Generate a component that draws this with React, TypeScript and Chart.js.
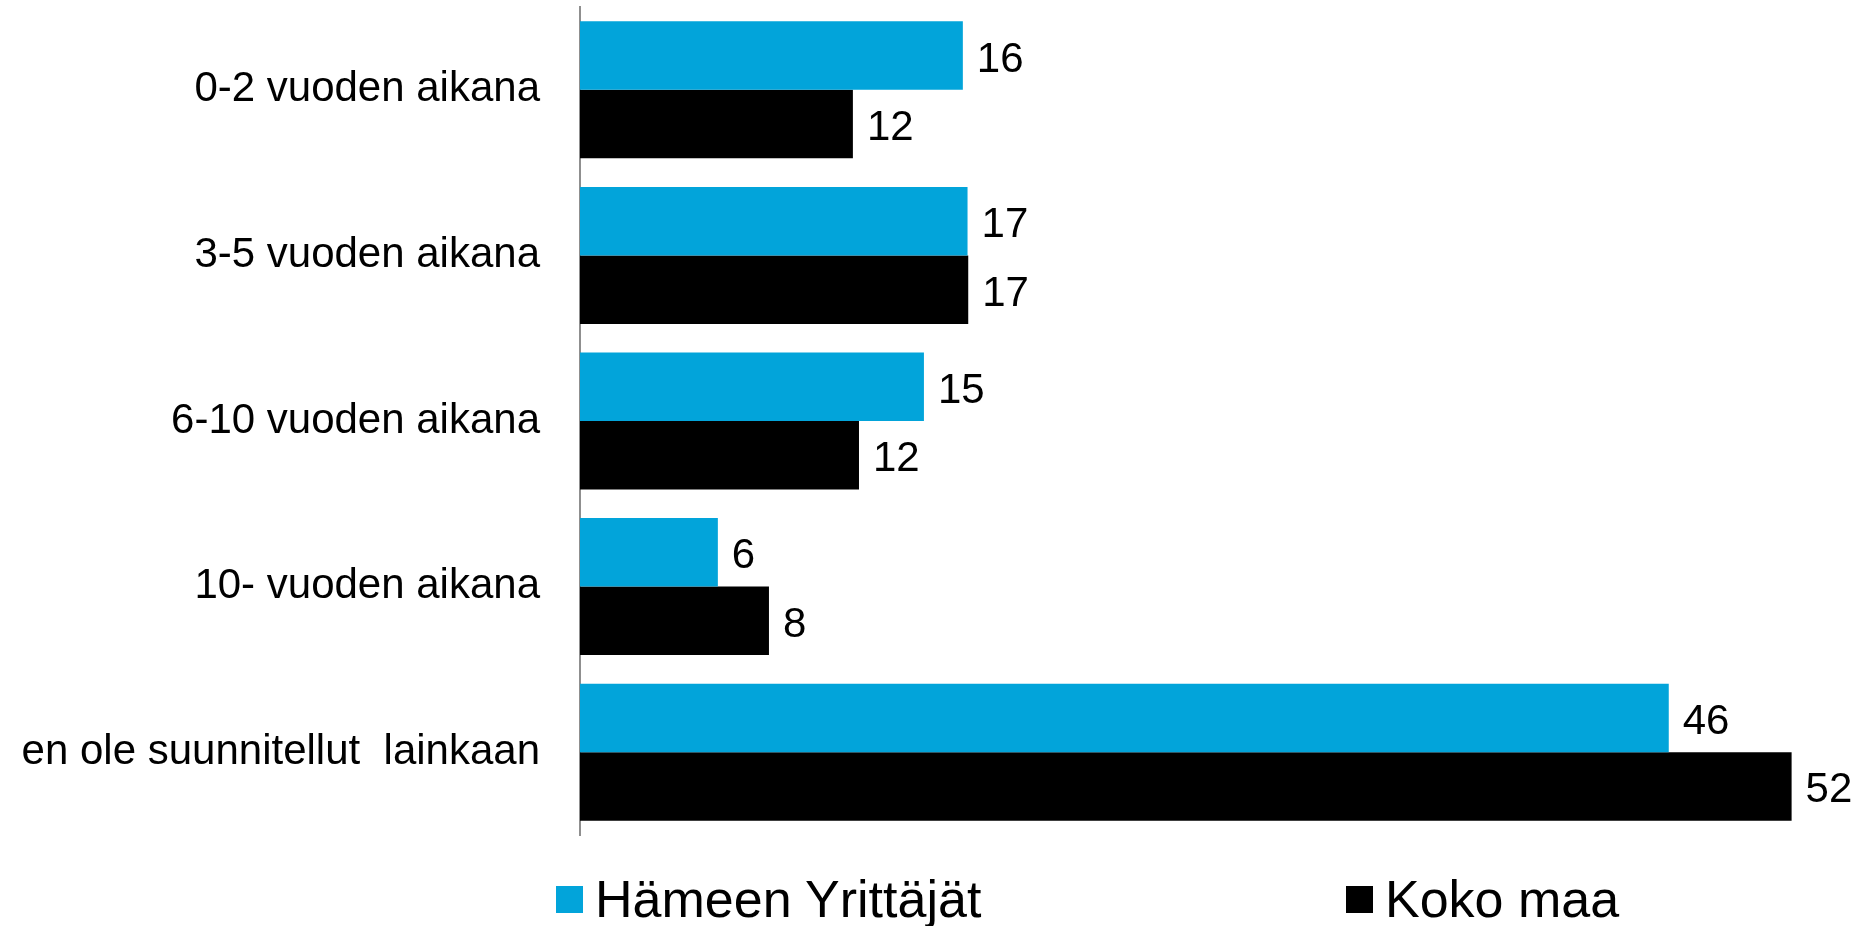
import React, { useEffect, useRef } from "react";
import { Chart, registerables } from "chart.js";

Chart.register(...registerables);

const categories = [
  "0-2 vuoden aikana",
  "3-5 vuoden aikana",
  "6-10 vuoden aikana",
  "10- vuoden aikana",
  "en ole suunnitellut  lainkaan",
];
const seriesNames = ["Hämeen Yrittäjät", "Koko maa"];
const hameenValues = [16.33, 16.53, 14.67, 5.88, 46.44];
const kokoMaaValues = [11.64, 16.56, 11.9, 8.06, 51.68];
const seriesColors = ["#02A4DA", "#000000"];

const FONT = "'Liberation Sans', Arial, Helvetica, sans-serif";
const LABEL_SIZE = 42;

const valueLabelPlugin = {
  id: "valueLabels",
  afterDatasetsDraw(chart: any) {
    const ctx = chart.ctx;
    ctx.save();
    ctx.font = `${LABEL_SIZE}px ${FONT}`;
    ctx.fillStyle = "#000";
    ctx.textAlign = "left";
    ctx.textBaseline = "alphabetic";
    chart.data.datasets.forEach((ds: any, di: number) => {
      const meta = chart.getDatasetMeta(di);
      meta.data.forEach((bar: any, i: number) => {
        const v = ds.data[i];
        ctx.fillText(
          String(Math.round(v)),
          bar.x + 14,
          bar.y + 1 + 0.358 * LABEL_SIZE
        );
      });
    });
    ctx.restore();
  },
};

export default function App() {
  const ref = useRef<HTMLCanvasElement | null>(null);
  useEffect(() => {
    if (!ref.current) return;
    const chart = new Chart(ref.current, {
      type: "bar",
      data: {
        labels: categories,
        datasets: [
          {
            label: seriesNames[0],
            data: hameenValues,
            backgroundColor: seriesColors[0],
            categoryPercentage: 0.827,
            barPercentage: 1,
          },
          {
            label: seriesNames[1],
            data: kokoMaaValues,
            backgroundColor: seriesColors[1],
            categoryPercentage: 0.827,
            barPercentage: 1,
          },
        ],
      },
      options: {
        indexAxis: "y",
        animation: false,
        responsive: true,
        maintainAspectRatio: false,
        layout: { padding: { top: 7, right: 24, bottom: 91, left: 0 } },
        plugins: {
          legend: { display: false },
          tooltip: { enabled: false },
        },
        scales: {
          x: {
            display: false,
            min: 0,
            max: 54,
          },
          y: {
            grid: { display: false, drawTicks: false },
            border: { display: true, color: "#8f8f8f", width: 2 },
            ticks: {
              color: "#000",
              padding: 40,
              font: { family: FONT, size: 42 },
            },
            afterFit(scale: any) {
              scale.width = 580;
              scale.paddingTop = 0;
              scale.paddingBottom = 0;
            },
          },
        },
      },
      plugins: [valueLabelPlugin],
    } as any);
    return () => chart.destroy();
  }, []);

  const legendText: React.CSSProperties = {
    position: "absolute",
    fontFamily: FONT,
    fontSize: 52,
    lineHeight: "52px",
    color: "#000",
    whiteSpace: "nowrap",
    top: 873,
  };

  return (
    <div
      style={{
        position: "absolute",
        left: 0,
        top: 0,
        width: 1870,
        height: 926,
        background: "#fff",
      }}
    >
      <canvas ref={ref} />
      <div
        style={{
          position: "absolute",
          left: 556,
          top: 886,
          width: 27,
          height: 27,
          background: seriesColors[0],
        }}
      />
      <div style={{ ...legendText, left: 595 }}>{seriesNames[0]}</div>
      <div
        style={{
          position: "absolute",
          left: 1346,
          top: 886,
          width: 27,
          height: 27,
          background: seriesColors[1],
        }}
      />
      <div style={{ ...legendText, left: 1385 }}>{seriesNames[1]}</div>
    </div>
  );
}
